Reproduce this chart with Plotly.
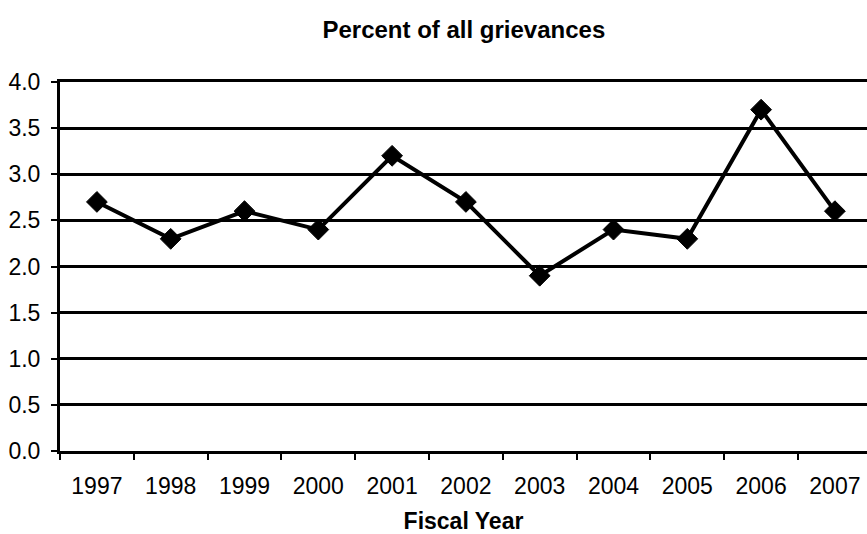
import plotly.graph_objects as go

# Share of all grievances by fiscal year
years = ["1997", "1998", "1999", "2000", "2001", "2002", "2003", "2004", "2005", "2006", "2007"]
percent = [2.7, 2.3, 2.6, 2.4, 3.2, 2.7, 1.9, 2.4, 2.3, 3.7, 2.6]
y_ticks = [0.0, 0.5, 1.0, 1.5, 2.0, 2.5, 3.0, 3.5, 4.0]

FONT = "Arial, Liberation Sans, sans-serif"

fig = go.Figure(
    go.Scatter(
        x=years,
        y=percent,
        mode="lines+markers",
        line=dict(color="black", width=4),
        marker=dict(symbol="diamond", size=16, color="black",
                    line=dict(color="black", width=1)),
        cliponaxis=False,
        showlegend=False,
    )
)

fig.update_layout(
    width=867,
    height=534,
    margin=dict(l=60, r=0, t=82, b=83),
    paper_bgcolor="white",
    plot_bgcolor="white",
    font=dict(family=FONT, color="black", size=22),
    title=dict(
        text="<b>Percent of all grievances</b>",
        x=0.535, xanchor="center",
        y=0.945, yanchor="middle",
        font=dict(family=FONT, size=24, color="black"),
    ),
)

fig.update_xaxes(
    type="category",
    range=[-0.5, 10.435],
    showgrid=False,
    showline=True,
    linecolor="black",
    linewidth=3,
    mirror=True,
    ticks="outside",
    tickson="boundaries",
    ticklen=6,
    tickwidth=2,
    tickcolor="black",
    ticklabelstandoff=12,
    tickfont=dict(family=FONT, size=23, color="black"),
    title=dict(text="<b>Fiscal Year</b>",
               font=dict(family=FONT, size=23, color="black"), standoff=20),
    zeroline=False,
)

fig.update_yaxes(
    range=[0, 4],
    tickvals=y_ticks,
    ticktext=[f"{v:.1f}" for v in y_ticks],
    showgrid=True,
    gridcolor="black",
    gridwidth=3,
    showline=True,
    linecolor="black",
    linewidth=3,
    ticks="outside",
    ticklen=6,
    tickwidth=2,
    tickcolor="black",
    ticklabelstandoff=6,
    tickfont=dict(family=FONT, size=23, color="black"),
    zeroline=False,
)

fig.write_html("out.html")
